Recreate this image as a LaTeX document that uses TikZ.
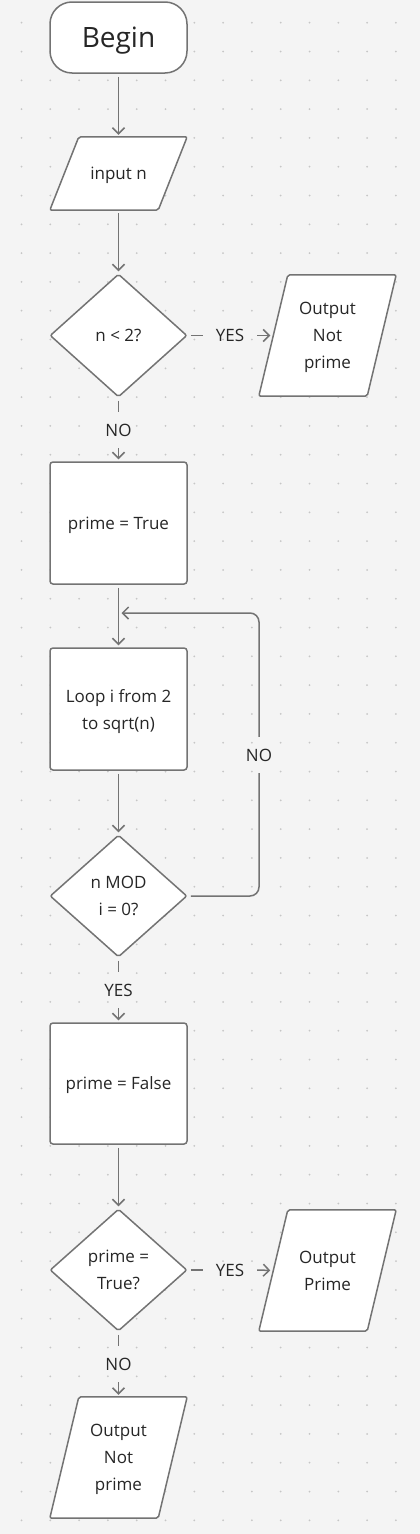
\documentclass[tikz,border=0pt]{standalone}
\usepackage{fontspec}
\setmainfont{Open Sans}
\usetikzlibrary{arrows.meta,shapes.geometric}
\pgfdeclarelayer{back}
\pgfdeclarelayer{shapes}
\pgfsetlayers{back,shapes,main}
\definecolor{bgc}{HTML}{F4F4F4}
\definecolor{dotc}{HTML}{C6C6C6}
\definecolor{strokec}{HTML}{737373}
\definecolor{textc}{HTML}{262626}
\tikzset{
  base/.style={draw=strokec, line width=1.5pt, fill=white, text=textc, font=\fontsize{17}{27}\selectfont, align=center, inner sep=0pt, text depth=0pt},
  terminal/.style={base, rounded corners=22pt, minimum width=137pt, minimum height=71pt, font=\fontsize{28}{32}\selectfont},
  process/.style={base, rounded corners=3pt, minimum width=137pt, minimum height=122pt},
  decision/.style={base, diamond, rounded corners=2pt, minimum width=137pt, minimum height=123pt},
  iotext/.style={text=textc, font=\fontsize{17}{27}\selectfont, align=center, inner sep=0pt, text depth=0pt, minimum width=108pt, minimum height=121pt},
  iobox/.style={draw=strokec, line width=1.5pt, fill=white, rounded corners=2pt},
  lbl/.style={text=textc, font=\fontsize{17}{27}\selectfont, inner sep=0pt, minimum width=54pt, minimum height=36pt},
  conn/.style={draw=strokec, line width=1.5pt},
  arr/.style={conn, -{Straight Barb[length=6pt,width=12pt]}},
}
\begin{document}
\begin{tikzpicture}[x=1pt,y=-1pt]
\useasboundingbox (0,0) rectangle (420,1534);
\begin{pgfonlayer}{back}
  \fill[bgc] (0,0) rectangle (420,1534);
  \foreach \i in {0,...,13}
    \foreach \j in {0,...,52}
      \fill[dotc] (21.5+28.8*\i, 22.7+28.8*\j) circle (1pt);
\end{pgfonlayer}

\node[terminal] (begin) at (118.5,37.5) {Begin};
\node[iotext, minimum height=73pt] (input) at (118.5,173.5) {input n};
\node[decision] (d1) at (118.5,335.5) {n < 2?};
\node[iotext] (out1) at (327.5,335.5) {Output\\Not\\prime};
\node[process] (ptrue) at (118.5,523) {prime = True};
\node[process] (loop) at (118.5,709) {Loop i from 2\\to sqrt(n)};
\node[decision, minimum height=122pt] (d2) at (118.5,896) {n MOD\\i = 0?};
\node[process, minimum height=121pt] (pfalse) at (118.5,1083.5) {prime = False};
\node[decision, minimum height=122pt] (d3) at (118.5,1270) {prime =\\True?};
\node[iotext] (out2) at (327.5,1270.5) {Output\\Prime};
\node[iotext] (out3) at (118.5,1457.5) {Output\\Not\\prime};

\begin{pgfonlayer}{shapes}
  \foreach \nm in {input,out1,out2,out3}
    \draw[iobox] ([xshift=14.5pt]\nm.north west) -- ([xshift=14.5pt]\nm.north east)
      -- ([xshift=-14.5pt]\nm.south east) -- ([xshift=-14.5pt]\nm.south west) -- cycle;
\end{pgfonlayer}

\node[lbl] (y1) at (230,335.5) {YES};
\node[lbl] (n1) at (118.5,430) {NO};
\node[lbl] (n2) at (259,755) {NO};
\node[lbl] (y2) at (118.5,990) {YES};
\node[lbl] (y3) at (230,1270) {YES};
\node[lbl] (n3) at (118.5,1364) {NO};
\coordinate (back) at (259,613);

\draw[arr, shorten <=3pt, shorten >=2pt] (begin.south) -- (input.north);
\draw[arr, shorten <=3pt, shorten >=2pt] (input.south) -- (d1.north);
\draw[conn, shorten <=3pt] (d1.east) -- (y1.west);
\draw[arr, shorten >=3pt] (y1.east) -- (out1.west);
\draw[conn, shorten <=3pt] (d1.south) -- (n1.north);
\draw[arr, shorten >=2pt] (n1.south) -- (ptrue.north);
\draw[arr, shorten <=3pt, shorten >=2pt] (ptrue.south) -- (loop.north);
\draw[arr, shorten <=3pt, shorten >=2pt] (loop.south) -- (d2.north);
\draw[conn, shorten <=3pt, rounded corners=9pt] (d2.east) -| (n2.south);
\draw[arr, rounded corners=9pt, shorten >=3pt] (n2.north) -- (back) -- (ptrue.south |- back);
\draw[conn, shorten <=3pt] (d2.south) -- (y2.north);
\draw[arr, shorten >=2pt] (y2.south) -- (pfalse.north);
\draw[arr, shorten <=3pt, shorten >=2pt] (pfalse.south) -- (d3.north);
\draw[conn, shorten <=3pt] (d3.east) -- (y3.west);
\draw[arr, shorten >=3pt] (y3.east) -- (out2.west);
\draw[conn, shorten <=3pt] (d3.south) -- (n3.north);
\draw[arr, shorten >=2pt] (n3.south) -- (out3.north);
\end{tikzpicture}
\end{document}
